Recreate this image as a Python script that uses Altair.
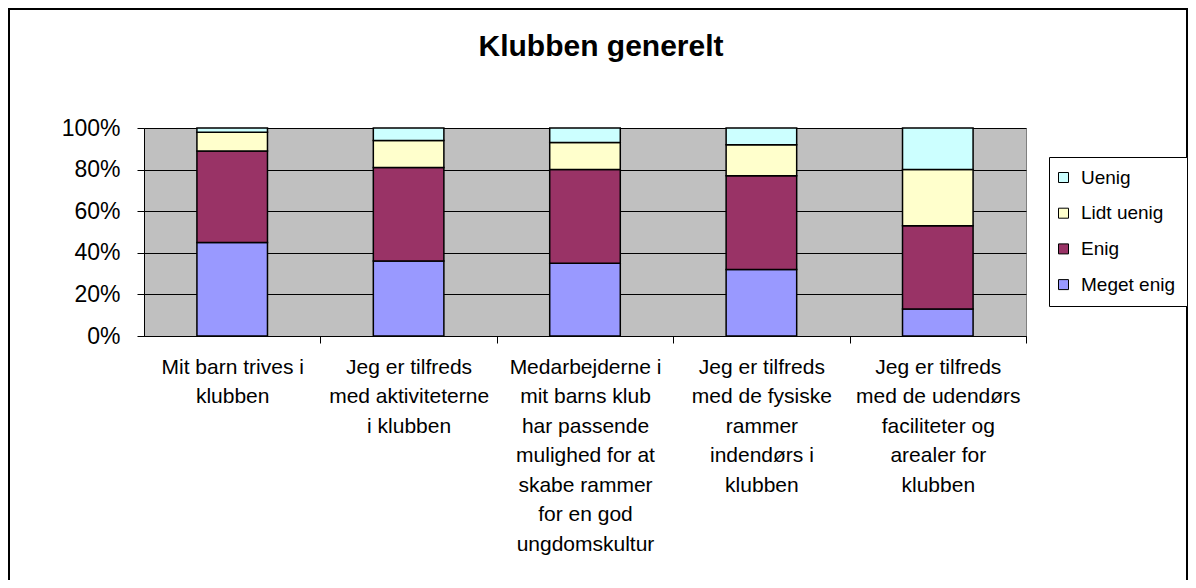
import altair as alt
import pandas as pd

categories = [
    "Mit barn trives i|klubben",
    "Jeg er tilfreds|med aktiviteterne|i klubben",
    "Medarbejderne i|mit barns klub|har passende|mulighed for at|skabe rammer|for en god|ungdomskultur",
    "Jeg er tilfreds|med de fysiske|rammer|indendørs i|klubben",
    "Jeg er tilfreds|med de udendørs|faciliteter og|arealer for|klubben",
]
series = ["Meget enig", "Enig", "Lidt uenig", "Uenig"]
meget_enig = [45, 36, 35, 32, 13]
enig = [44, 45, 45, 45, 40]
lidt_uenig = [9, 13, 13, 15, 27]
uenig = [2, 6, 7, 8, 20]
series_colors = ["#9999FF", "#993366", "#FFFFCC", "#CCFFFF"]
title_text = "Klubben generelt"

values = [meget_enig, enig, lidt_uenig, uenig]
rows = []
for si, s in enumerate(series):
    for ci, c in enumerate(categories):
        rows.append({"category": c, "series": s, "value": values[si][ci], "rank": si})
df = pd.DataFrame(rows)

legend_order = list(reversed(series))
legend_colors = list(reversed(series_colors))

FONT = "Liberation Sans"
half_gap = 52.92

bars = alt.Chart(df).mark_bar(stroke="black", strokeWidth=1.5).encode(
    x=alt.X(
        "category:N",
        sort=categories,
        scale=alt.Scale(paddingInner=0.6, paddingOuter=0.3),
        axis=alt.Axis(
            title=None, labelAngle=0, labelExpr="split(datum.label, '|')",
            labelFont=FONT, labelFontSize=21, labelLineHeight=29.5,
            labelPadding=13, labelColor="black", labelBaseline="top",
            labelLimit=0, labelOverlap=False,
            tickColor="black", tickSize=7, tickWidth=1,
            domainColor="black", domainWidth=1,
            bandPosition=1, tickOffset=half_gap, labelOffset=-half_gap,
            grid=False,
        ),
    ),
    y=alt.Y(
        "value:Q",
        stack="normalize",
        scale=alt.Scale(domain=[0, 1]),
        axis=alt.Axis(
            title=None, format=".0%", values=[0, 0.2, 0.4, 0.6, 0.8, 1],
            labelFont=FONT, labelFontSize=23, labelColor="black", labelPadding=17,
            tickColor="black", tickSize=7, tickWidth=1,
            domainColor="black", domainWidth=1,
            grid=True, gridColor="black", gridWidth=1, gridOpacity=1,
        ),
    ),
    color=alt.Color(
        "series:N",
        scale=alt.Scale(domain=legend_order, range=legend_colors),
        legend=alt.Legend(
            title=None, orient="none", legendX=905, legendY=29,
            strokeColor="black", fillColor="white", padding=11, rowPadding=15.7,
            symbolType="square", symbolSize=100, symbolStrokeColor="black",
            symbolStrokeWidth=1, symbolOpacity=1, symbolOffset=-6,
            labelFont=FONT, labelFontSize=19, labelColor="black", labelOffset=8,
            cornerRadius=0,
        ),
    ),
    order=alt.Order("rank:Q"),
)

border = alt.Chart(pd.DataFrame({"k": [0]})).mark_rect(
    filled=False, stroke="black", strokeWidth=2
).encode(
    x=alt.value(-135), x2=alt.value(1043), y=alt.value(-119), y2=alt.value(540)
)

title = alt.Chart(pd.DataFrame({"t": [title_text]})).mark_text(
    font=FONT, fontSize=30, fontWeight="bold", align="center",
    baseline="alphabetic", color="black"
).encode(x=alt.value(457), y=alt.value(-72), text="t:N")

chart = alt.layer(bars, border, title).properties(
    width=882, height=208,
    autosize=alt.AutoSizeParams(type="none"),
    padding={"left": 136, "top": 120, "right": 162, "bottom": 244},
    background="white",
).configure_view(fill="#C0C0C0", stroke="#808080", strokeWidth=1)

chart.save("out.html", embed_options={"renderer": "svg", "actions": False})
